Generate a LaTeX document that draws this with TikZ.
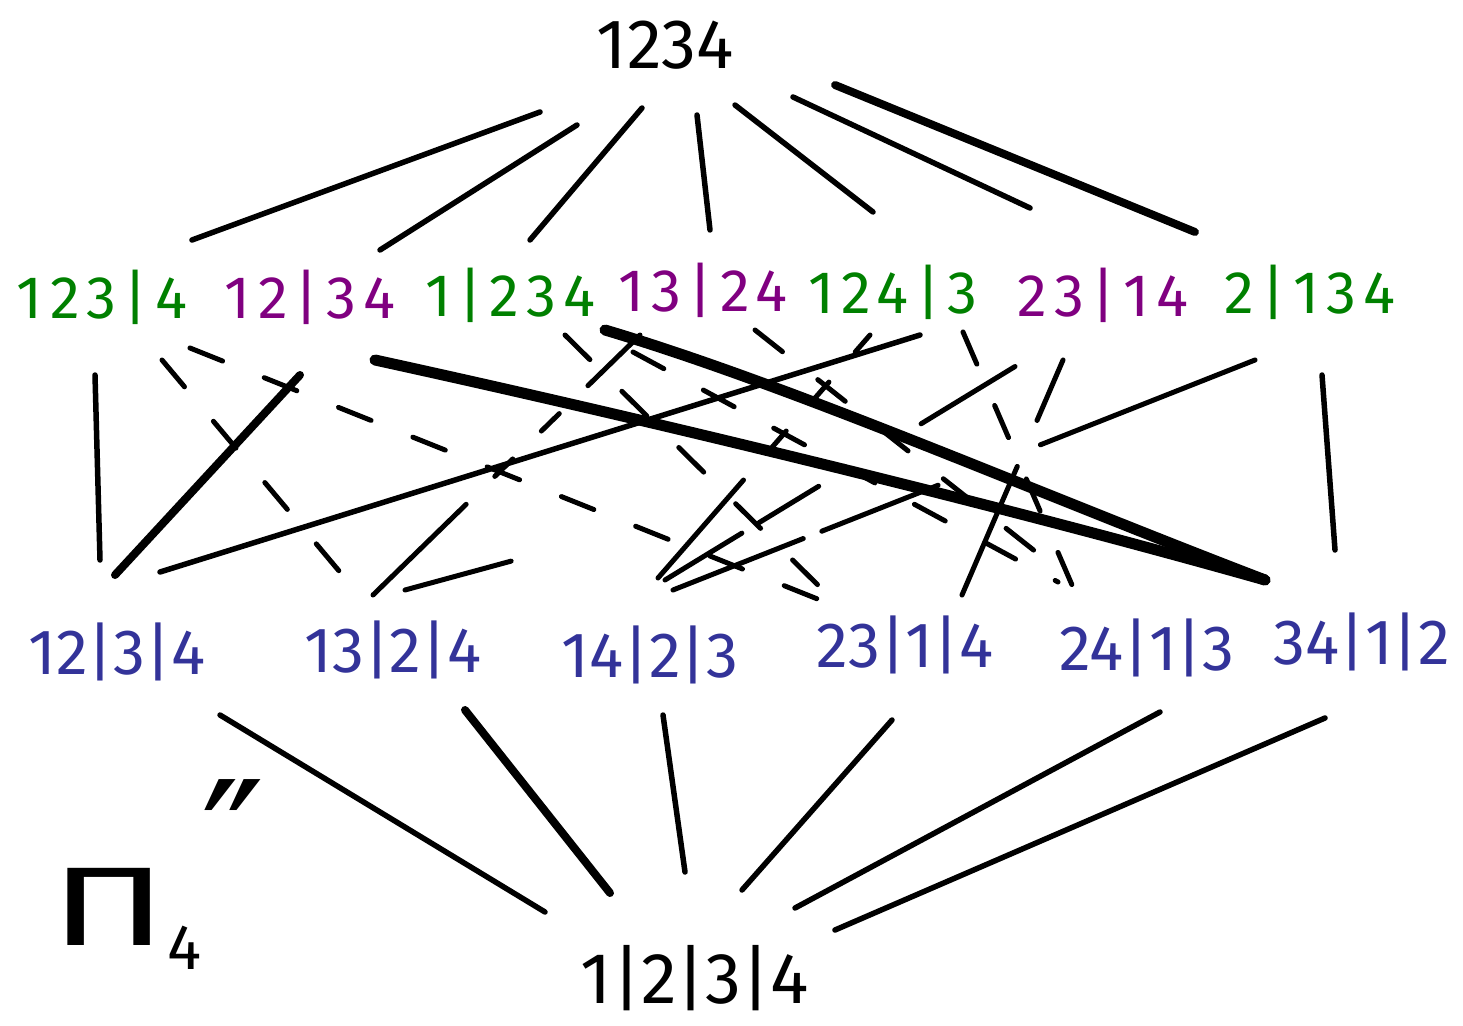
\documentclass[tikz,border=0pt]{standalone}
\usepackage{fontspec}
\setmainfont{Fira Sans}
\newfontfamily\dejavu{DejaVu Sans}
\newfontfamily\spaced[LetterSpace=12]{Fira Sans}
\usetikzlibrary{calc}
\definecolor{grn}{RGB}{0,128,0}
\definecolor{prp}{RGB}{128,0,128}
\definecolor{blu}{RGB}{51,51,153}
\begin{document}
\begin{tikzpicture}[x=1pt,y=-1pt,
  lbl/.style={inner sep=0pt, anchor=center},
  toplbl/.style={lbl,font=\fontsize{70}{76}\selectfont},
  midg/.style={lbl,text=grn,font=\spaced\fontsize{60}{64}\selectfont},
  midp/.style={lbl,text=prp,font=\spaced\fontsize{60}{64}\selectfont},
  low/.style={lbl,text=blu,font=\fontsize{64}{70}\selectfont},
  botlbl/.style={lbl,font=\fontsize{72}{80}\selectfont},
  edge/.style={line width=5.5pt,line cap=round},
  thk/.style={line width=8pt,line cap=round},
  vthk/.style={line width=11pt,line cap=round},
  hid/.style={line width=5pt,line cap=round,dash pattern=on 35pt off 45pt},
]
\useasboundingbox (0,0) rectangle (1463,1025);
% nodes
\node[toplbl] (T) at (665,45) {1234};
\node[midg] (A) at (102,297) {123|4};
\node[midp] (B) at (310,297) {12|34};
\node[midg] (C) at (510,295) {1|234};
\node[midp] (D) at (703,290) {13|24};
\node[midg] (E) at (893,292) {124|3};
\node[midp] (F) at (1103,295) {23|14};
\node[midg] (G) at (1310,292) {2|134};
\node[low] (a) at (117,652) {12|3|4};
\node[low] (b) at (393,650) {13|2|4};
\node[low] (c) at (650,655) {14|2|3};
\node[low] (d) at (905,645) {23|1|4};
\node[low] (e) at (1147,648) {24|1|3};
\node[low] (f) at (1362,642) {34|1|2};
\node[botlbl] (Bt) at (695,978) {1|2|3|4};
\node[inner sep=0pt,anchor=base west] (P) at (50,945) {\fontsize{112}{116}\selectfont\scalebox{1.55}[1]{Π}\raisebox{-24pt}{\fontsize{64}{64}\selectfont 4}\raisebox{42pt}{\fontsize{170}{170}\selectfont\dejavu ″}};
% top edges
\draw[edge] ($(T)+(-125,67)$) -- ($(A)+(90,-57)$);
\draw[edge] ($(T)+(-88,80)$) -- ($(B)+(70,-47)$);
\draw[edge] ($(T)+(-23,63)$) -- ($(C)+(20,-55)$);
\draw[edge] ($(T)+(32,70)$) -- ($(D)+(7,-60)$);
\draw[edge] ($(T)+(70,60)$) -- ($(E)+(-20,-80)$);
\draw[edge] ($(T)+(128,52)$) -- ($(F)+(-73,-87)$);
\draw[thk] ($(T)+(170,40)$) -- ($(G)+(-115,-60)$);
% bottom edges
\draw[edge] ($(a)+(103,63)$) -- ($(Bt)+(-150,-66)$);
\draw[thk] ($(b)+(72,60)$) -- ($(Bt)+(-85,-85)$);
\draw[edge] ($(c)+(13,60)$) -- ($(Bt)+(-10,-106)$);
\draw[edge] ($(d)+(-13,75)$) -- ($(Bt)+(47,-88)$);
\draw[edge] ($(e)+(13,64)$) -- ($(Bt)+(100,-70)$);
\draw[edge] ($(f)+(-37,76)$) -- ($(Bt)+(140,-48)$);
% middle edges
\draw[edge] ($(A)+(-7,78)$) -- ($(a)+(-17,-92)$);
\draw[thk] ($(B)+(-10,78)$) -- ($(a)+(-2,-77)$);
\draw[edge] ($(E)+(27,43)$) -- ($(a)+(43,-80)$);
\draw[hid] ($(A)+(60,63)$) -- ($(b)+(-38,-60)$);
\draw[hid] ($(A)+(88,51)$) -- ($(d)+(-80,-43)$);
\draw[hid,dash pattern=on 130pt off 40pt on 25pt off 40pt on 25pt off 40pt] ($(b)+(-20,-55)$) -- ($(D)+(-63,45)$);
\draw[hid,dash pattern=on 110pt off 2000pt] ($(b)+(12,-60)$) -- ($(G)+(-60,68)$);
\draw[hid,dash pattern=on 130pt off 40pt on 25pt off 40pt on 25pt off 40pt] ($(c)+(8,-77)$) -- ($(E)+(-23,43)$);
\draw[hid,dash pattern=on 90pt off 20pt on 70pt off 120pt on 110pt] ($(c)+(15,-75)$) -- ($(F)+(-56,52)$);
\draw[hid,dash pattern=on 140pt off 20pt on 125pt off 110pt on 240pt] ($(c)+(23,-65)$) -- ($(G)+(-55,68)$);
\draw[hid] ($(C)+(55,40)$) -- ($(d)+(-75,-48)$);
\draw[hid,dash pattern=on 140pt off 50pt on 80pt off 60pt on 300pt] ($(d)+(57,-50)$) -- ($(F)+(-40,65)$);
\draw[hid] ($(C)+(123,57)$) -- ($(e)+(-89,-66)$);
\draw[hid] ($(D)+(52,40)$) -- ($(e)+(-92,-81)$);
\draw[hid] ($(E)+(70,40)$) -- ($(e)+(-75,-63)$);
\draw[vthk] ($(B)+(65,63)$) .. controls (650,420) and (1000,505) .. ($(f)+(-97,-62)$);
\draw[vthk] ($(C)+(95,35)$) .. controls (790,385) and (1030,490) .. ($(f)+(-97,-62)$);
\draw[edge] ($(G)+(12,83)$) -- ($(f)+(-27,-92)$);
\end{tikzpicture}
\end{document}
